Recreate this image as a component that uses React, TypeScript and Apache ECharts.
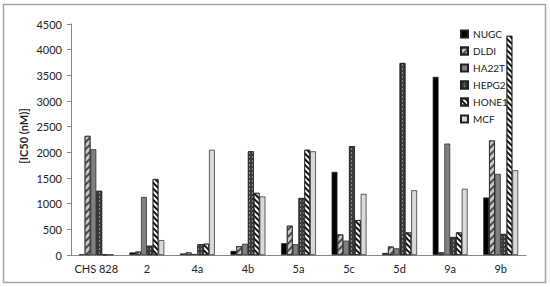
import React, { useEffect, useRef } from "react";
import * as echarts from "echarts";

const categories = ["CHS 828", "2", "4a", "4b", "5a", "5c", "5d", "9a", "9b"];
const yTicks = [0, 500, 1000, 1500, 2000, 2500, 3000, 3500, 4000, 4500];
const NUGC = [15, 50, 30, 80, 230, 1620, 40, 3470, 1120];
const DLDI = [2320, 65, 50, 170, 570, 400, 165, 50, 2230];
const HA22T = [2060, 1130, 20, 220, 210, 280, 130, 2170, 1580];
const HEPG2 = [1250, 180, 210, 2020, 1110, 2120, 3740, 350, 410];
const HONE1 = [10, 1480, 220, 1210, 2050, 680, 440, 440, 4270];
const MCF = [10, 290, 2050, 1140, 2020, 1190, 1260, 1290, 1650];

const FONT = "Lato, 'Open Sans', sans-serif";

export default function App() {
  const ref = useRef<HTMLDivElement>(null);
  useEffect(() => {
    if (!ref.current) return;
    const chart = echarts.init(ref.current, undefined, { renderer: "svg" });
    const border = { borderColor: "#222", borderWidth: 0.7 };
    const mk = (name: string, data: number[], itemStyle: any) => ({
      name,
      type: "bar",
      data,
      barGap: "0%",
      barCategoryGap: "31%",
      itemStyle: { ...border, ...itemStyle },
    });
    chart.setOption({
      animation: false,
      backgroundColor: "#fff",
      textStyle: { fontFamily: FONT },
      graphic: [
        {
          type: "rect",
          shape: { x: 3.5, y: 4.5, width: 542, height: 278 },
          style: { fill: "none", stroke: "#a6a6a6", lineWidth: 1.5 },
          silent: true,
        },
        {
          type: "text",
          x: 23,
          y: 136,
          rotation: Math.PI / 2,
          style: {
            text: "[IC50 (nM)]",
            fill: "#222",
            font: "bold 11px " + FONT,
            align: "center",
            verticalAlign: "middle",
          },
        },
      ],
      grid: { left: 71, right: 24, top: 24, bottom: 32, containLabel: false },
      legend: {
        orient: "vertical",
        left: 460,
        top: 29,
        padding: 0,
        itemWidth: 7,
        itemHeight: 7,
        itemGap: 7,
        icon: "rect",
        textStyle: { fontSize: 10, color: "#222", fontFamily: FONT },
        data: ["NUGC", "DLDI", "HA22T", "HEPG2", "HONE1", "MCF"],
      },
      xAxis: {
        type: "category",
        data: categories,
        axisLine: { lineStyle: { color: "#888", width: 1 } },
        axisTick: { show: false },
        axisLabel: { color: "#222", fontSize: 11, margin: 8, fontFamily: FONT, interval: 0 },
      },
      yAxis: {
        type: "value",
        min: yTicks[0],
        max: yTicks[yTicks.length - 1],
        interval: 500,
        axisLine: { show: true, lineStyle: { color: "#888", width: 1 } },
        axisTick: { show: true, length: 4, lineStyle: { color: "#888" } },
        splitLine: { show: false },
        axisLabel: {
          color: "#222",
          fontSize: 11,
          margin: 9,
          fontFamily: FONT,
          formatter: (v: number) => String(v),
        },
      },
      series: [
        mk("NUGC", NUGC, { color: "#000" }),
        mk("DLDI", DLDI, {
          color: "#c8c8c8",
          decal: {
            symbol: "rect",
            color: "#4a4a4a",
            dashArrayX: [1, 0],
            dashArrayY: [2, 3],
            rotation: -Math.PI / 4,
          },
        }),
        mk("HA22T", HA22T, { color: "#808080" }),
        mk("HEPG2", HEPG2, {
          color: "#3c3c3c",
          decal: {
            symbol: "rect",
            color: "#8a8a8a",
            dashArrayX: [1, 2],
            dashArrayY: [2, 2],
            rotation: 0,
          },
        }),
        mk("HONE1", HONE1, {
          color: "#ffffff",
          decal: {
            symbol: "rect",
            color: "#111",
            dashArrayX: [1, 0],
            dashArrayY: [1.5, 1.5],
            rotation: Math.PI / 4,
          },
        }),
        mk("MCF", MCF, { color: "#d9d9d9" }),
      ],
    });
    return () => chart.dispose();
  }, []);
  return (
    <div
      ref={ref}
      style={{ position: "absolute", left: 0, top: 0, width: 550, height: 287 }}
    />
  );
}
